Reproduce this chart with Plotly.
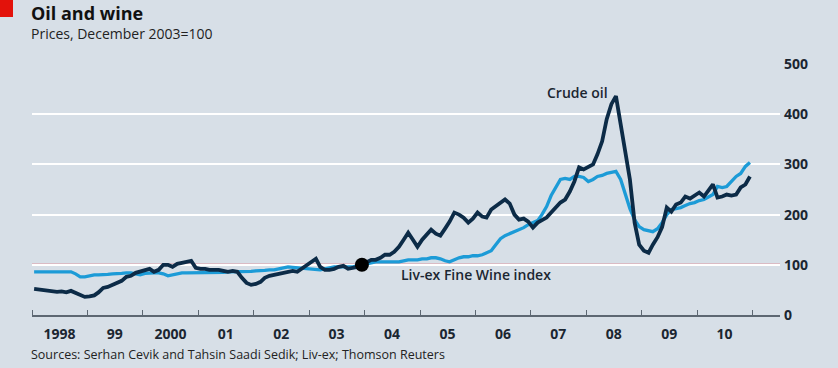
import pandas as pd
import plotly.graph_objects as go

# ---------------- data (monthly, Jan 1998 - Dec 2010; Dec 2003 = 100) ----------------
months = (pd.date_range("1998-01-01", periods=156, freq="MS") + pd.Timedelta(days=14))

crude_oil = [
    52, 51, 50, 49, 48, 46, 47, 45, 48, 44, 40, 36,          # 1998
    37, 39, 45, 54, 56, 60, 65, 68, 76, 78, 84, 86,          # 1999
    88, 92, 86, 90, 100, 100, 96, 102, 104, 106, 108, 94,    # 2000
    92, 92, 90, 90, 90, 88, 86, 88, 86, 74, 64, 60,          # 2001
    62, 66, 74, 78, 80, 82, 84, 86, 88, 86, 92, 100,         # 2002
    106, 112, 96, 90, 90, 92, 96, 98, 92, 94, 96, 100,       # 2003
    106, 110, 110, 114, 120, 120, 126, 136, 150, 164, 150, 136,  # 2004
    150, 160, 170, 162, 158, 172, 186, 204, 200, 194, 184, 192,  # 2005
    204, 196, 194, 210, 216, 222, 230, 222, 200, 190, 192, 186,  # 2006
    174, 184, 188, 194, 204, 214, 224, 230, 246, 266, 294, 290,  # 2007
    294, 300, 320, 346, 390, 420, 436, 380, 330, 270, 184, 140,  # 2008
    128, 124, 140, 155, 175, 214, 206, 220, 224, 236, 232, 238,  # 2009
    244, 236, 248, 260, 234, 236, 240, 238, 240, 254, 260, 276,  # 2010
]

wine_index = [
    86, 86, 85, 86, 86, 86, 85, 86, 86, 82, 76, 76,          # 1998
    78, 80, 80, 80, 81, 82, 82, 83, 84, 84, 82, 80,          # 1999
    83, 84, 84, 84, 82, 78, 80, 82, 84, 84, 84, 84,          # 2000
    84, 84, 84, 84, 84, 85, 86, 86, 86, 86, 86, 87,          # 2001
    88, 88, 89, 90, 90, 92, 94, 96, 95, 94, 94, 92,          # 2002
    92, 90, 90, 92, 94, 96, 96, 96, 96, 96, 98, 100,         # 2003
    102, 104, 106, 106, 106, 106, 106, 106, 108, 110, 110, 110,  # 2004
    112, 112, 114, 114, 112, 108, 106, 110, 114, 116, 116, 118,  # 2005
    118, 120, 124, 128, 140, 152, 158, 162, 166, 170, 174, 180,  # 2006
    184, 188, 200, 216, 238, 256, 270, 272, 270, 276, 276, 274,  # 2007
    266, 270, 276, 278, 282, 284, 286, 270, 240, 212, 190, 176,  # 2008
    170, 168, 166, 172, 184, 200, 210, 212, 214, 218, 222, 224,  # 2009
    228, 230, 234, 240, 256, 254, 256, 266, 276, 282, 296, 304,  # 2010
]

year_labels = ["1998", "99", "2000", "01", "02", "03", "04", "05", "06", "07", "08", "09", "10"]
year_label_pos = [f"{1998 + i}-07-01" for i in range(len(year_labels))]
year_bounds = [f"{y}-01-01" for y in range(1998, 2012)]
y_ticks = [0, 100, 200, 300, 400, 500]

base_date = ["2003-12-15"]
base_value = [100]

# ---------------- layout geometry ----------------
W, H = 838, 368
L, R, T, B = 32, 58, 64, 53
PW, PH = W - L - R, H - T - B


def px(x):
    return (x - L) / PW


def py(y):
    return (H - B - y) / PH


BG = "#d7dfe7"
DARK = "#1b2631"
OIL = "#0c2b47"
WINE = "#1c9bd7"
RED = "#e2505c"
FONT = "Open Sans"

fig = go.Figure()
fig.add_trace(go.Scatter(x=months, y=wine_index, mode="lines",
                         line=dict(color=WINE, width=3.3), hoverinfo="skip"))
fig.add_trace(go.Scatter(x=months, y=crude_oil, mode="lines",
                         line=dict(color=OIL, width=3.8), hoverinfo="skip"))
fig.add_trace(go.Scatter(x=base_date, y=base_value, mode="markers",
                         marker=dict(color="#000000", size=14), hoverinfo="skip"))

fig.add_shape(type="line", xref="paper", yref="y", x0=0, x1=1, y0=100, y1=100,
              line=dict(color=RED, width=2), layer="below")
fig.add_shape(type="rect", xref="paper", yref="paper",
              x0=px(0), x1=px(13), y0=py(17), y1=py(0),
              fillcolor="#e3120b", line=dict(width=0))

ann = [
    dict(text="<b>Oil and wine</b>", x=px(29), y=py(13), size=18, color="#111111"),
    dict(text="Prices, December 2003=100", x=px(29), y=py(33), size=14, color="#222222"),
    dict(text="Sources: Serhan Cevik and Tahsin Saadi Sedik; Liv-ex; Thomson Reuters",
         x=px(29), y=py(354), size=12.5, color="#222222"),
]
for a in ann:
    fig.add_annotation(text=a["text"], xref="paper", yref="paper", x=a["x"], y=a["y"],
                       xanchor="left", yanchor="middle", showarrow=False,
                       font=dict(family=FONT, size=a["size"], color=a["color"]))

fig.add_annotation(text="Crude oil", xref="paper", yref="paper", x=px(545), y=py(92),
                   xanchor="left", yanchor="middle", showarrow=False,
                   font=dict(family=FONT, size=14, color=DARK, weight=600))
fig.add_annotation(text="Liv-ex Fine Wine index", xref="paper", yref="paper", x=px(399), y=py(274),
                   xanchor="left", yanchor="middle", showarrow=False,
                   font=dict(family=FONT, size=14, color=DARK, weight=600))

fig.update_layout(
    width=W, height=H,
    margin=dict(l=L, r=R, t=T, b=B),
    paper_bgcolor=BG, plot_bgcolor=BG,
    showlegend=False,
    font=dict(family=FONT, color=DARK),
    xaxis=dict(
        type="date", range=["1998-01-01", "2011-07-01"],
        tickvals=year_label_pos, ticktext=year_labels, ticks="",
        tickfont=dict(family=FONT, size=14, color=DARK, weight=700),
        ticklabelstandoff=5,
        showgrid=False, zeroline=False,
        showline=True, linecolor="#5d6772", linewidth=1.5,
        minor=dict(tickvals=year_bounds, ticks="inside", ticklen=5,
                   tickwidth=1.2, tickcolor="#5d6772", showgrid=False),
        fixedrange=True,
    ),
    yaxis=dict(
        range=[0, 500], side="right", tickvals=y_ticks,
        ticks="", showgrid=True, gridcolor="#ffffff", gridwidth=2,
        zeroline=False, showline=False,
        tickfont=dict(family=FONT, size=14, color=DARK, weight=700),
        ticklabelstandoff=3,
        fixedrange=True,
    ),
)

fig.write_html("out.html", config={"displayModeBar": False},
               post_script="document.body.style.margin='0px';document.body.style.background='%s';" % BG)
